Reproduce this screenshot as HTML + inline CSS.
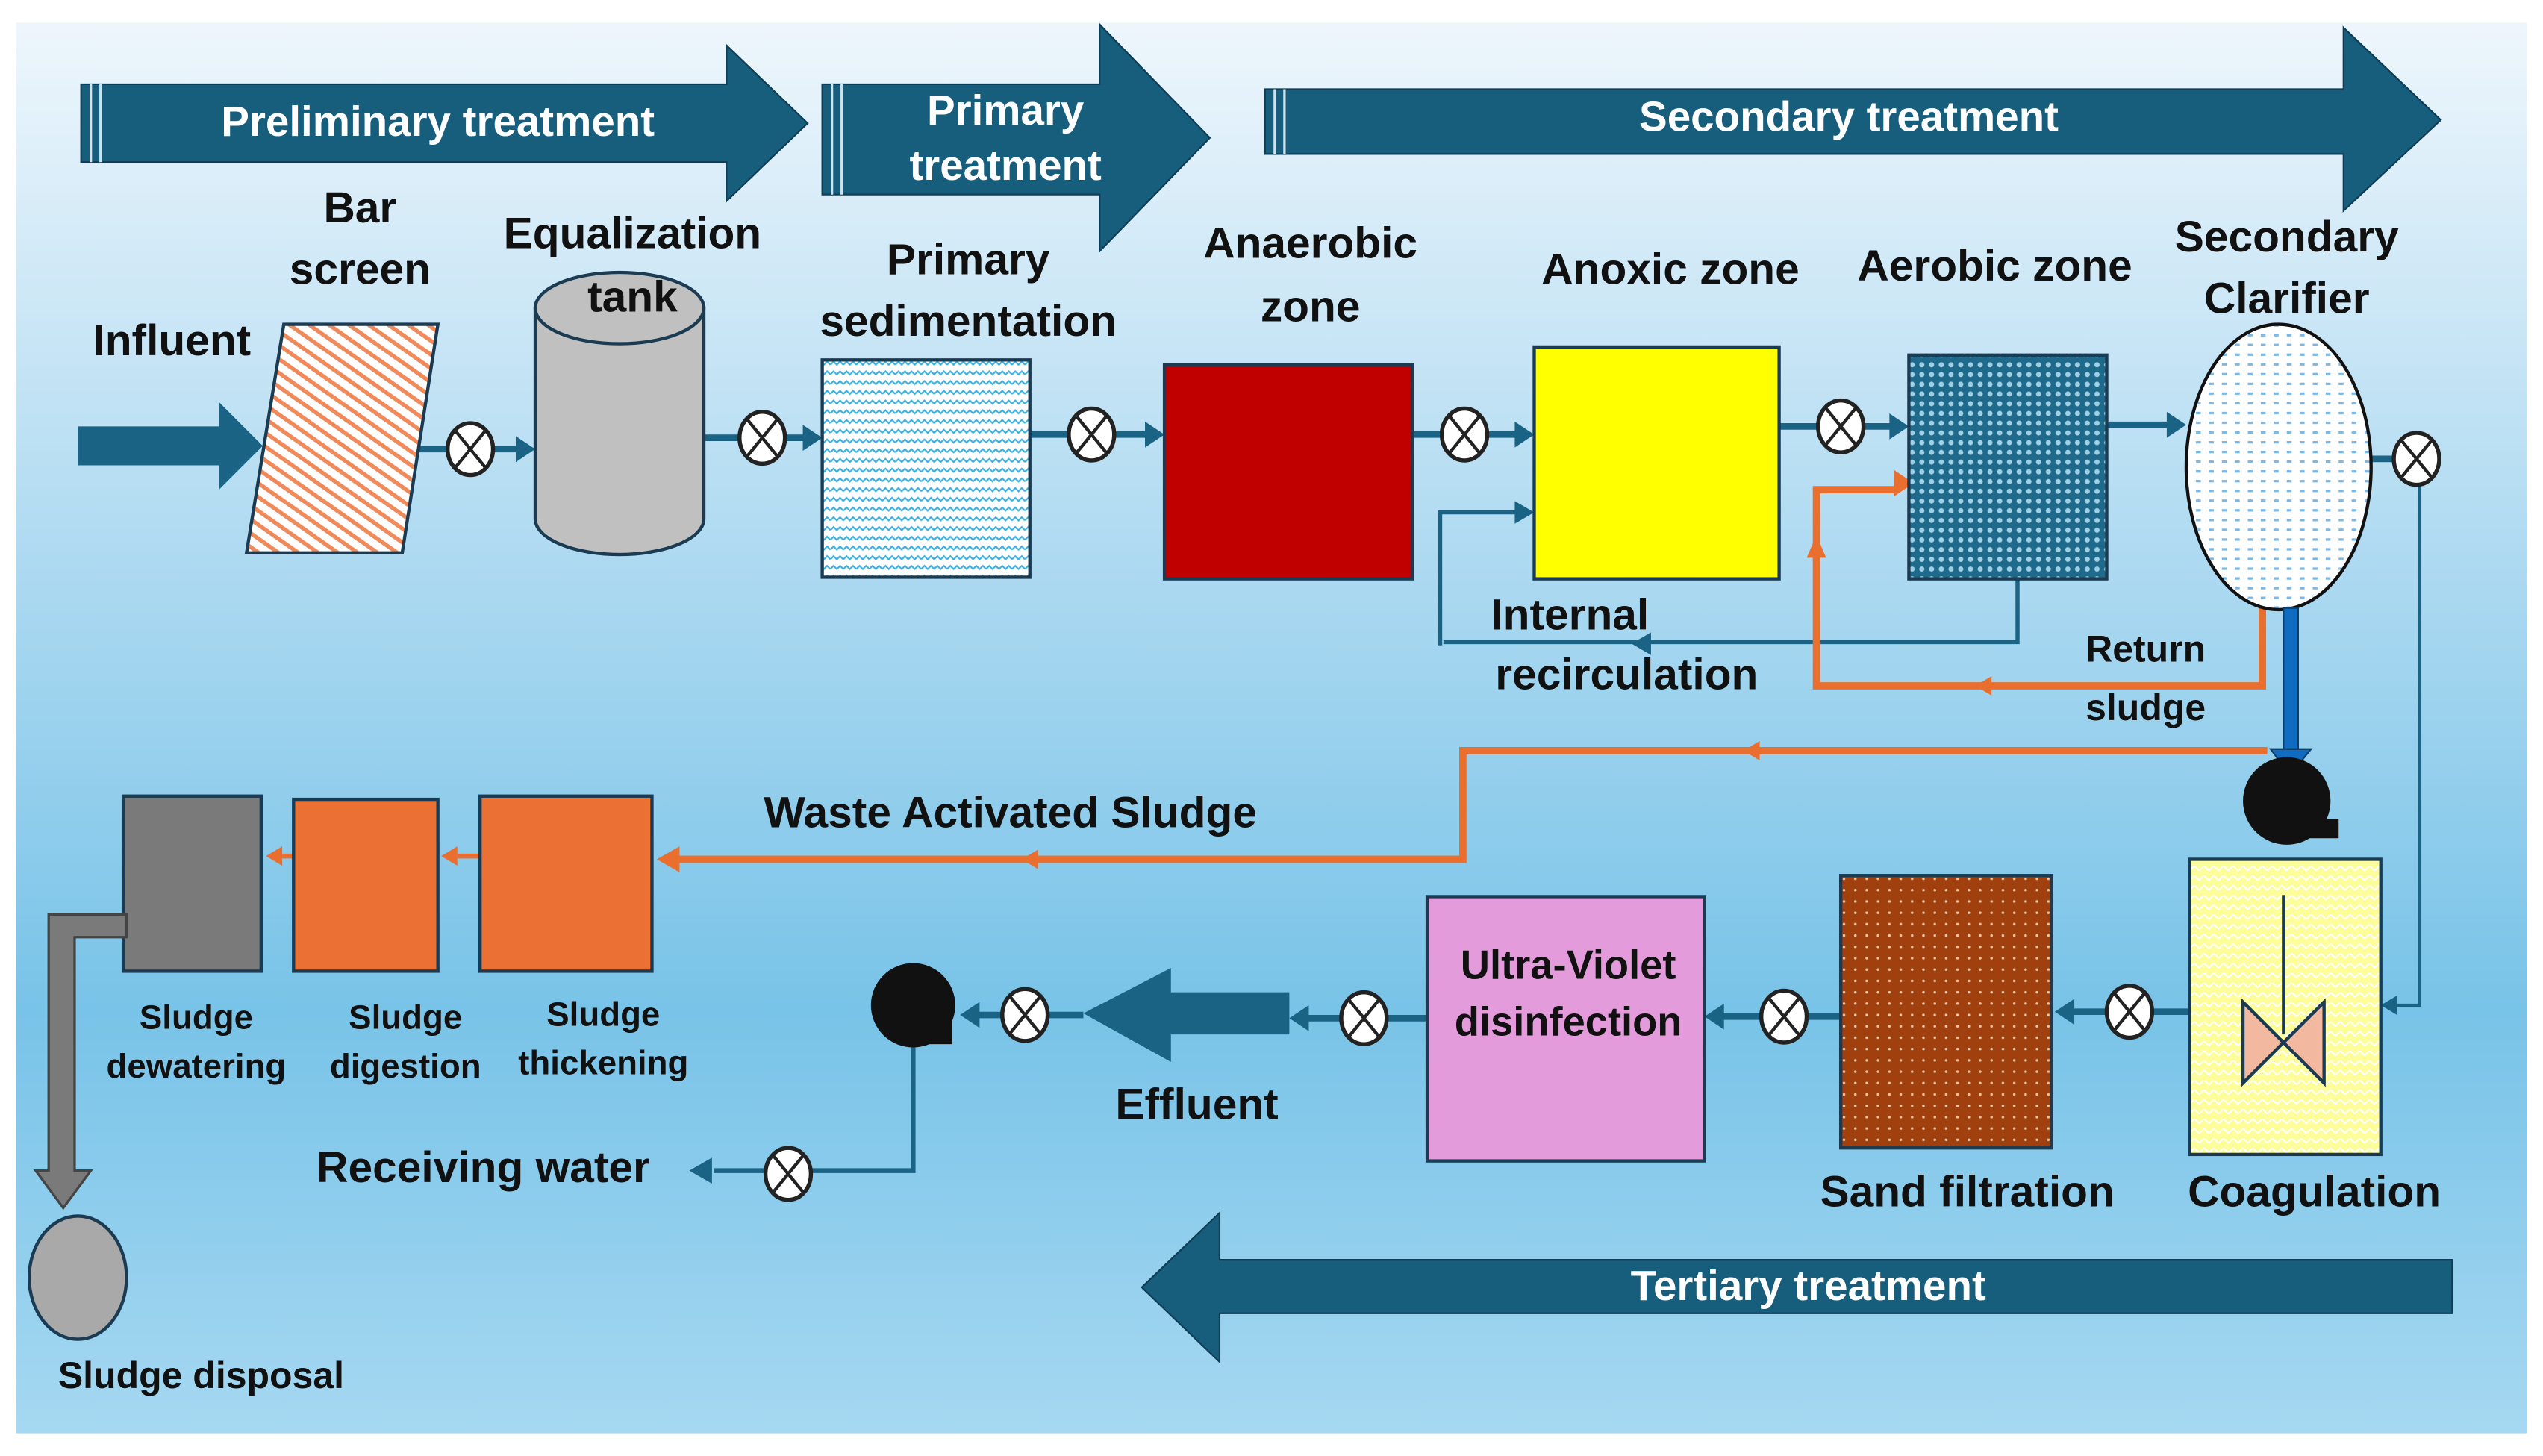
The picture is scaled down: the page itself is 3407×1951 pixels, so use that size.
<!DOCTYPE html>
<html><head><meta charset="utf-8"><style>
html,body{margin:0;padding:0;background:#fff;}
svg{display:block;}
text{font-family:"Liberation Sans Narrow","Liberation Sans",sans-serif;font-weight:bold;text-anchor:middle;dominant-baseline:middle;}
</style></head><body>
<svg width="3407" height="1951" viewBox="0 0 1568 898" preserveAspectRatio="none" xmlns="http://www.w3.org/2000/svg">
<defs>
<linearGradient id="bg" x1="0" y1="0" x2="0" y2="1">
<stop offset="0" stop-color="#eef6fc"/><stop offset="0.35" stop-color="#b3dcf2"/><stop offset="0.7" stop-color="#78c3e8"/><stop offset="1" stop-color="#a6d8f1"/></linearGradient>
<pattern id="hatch" width="7" height="7" patternUnits="userSpaceOnUse" patternTransform="rotate(-55)"><rect width="7" height="7" fill="#fff"/><rect width="2.5" height="7" fill="#f08a5a"/></pattern>
<pattern id="wave" width="8" height="6" patternUnits="userSpaceOnUse"><rect width="8" height="6" fill="#fff"/><path d="M0 3 L2 1 L4 3 L6 1 L8 3" stroke="#3bb0e0" fill="none" stroke-width="1"/></pattern>
<pattern id="mesh" width="6" height="6" patternUnits="userSpaceOnUse"><rect width="6" height="6" fill="#1f6a8a"/><circle cx="3" cy="3" r="1.6" fill="#9fd0e6"/></pattern>
<pattern id="dots" width="8" height="6" patternUnits="userSpaceOnUse"><rect width="8" height="6" fill="#fff"/><rect x="2" y="2" width="3" height="1.5" fill="#7bb8e6"/></pattern>
<pattern id="sand" width="7" height="7" patternUnits="userSpaceOnUse"><rect width="7" height="7" fill="#a0400f"/><circle cx="3" cy="3" r="0.8" fill="#f0c8a8"/></pattern>
<pattern id="yel" width="6" height="6" patternUnits="userSpaceOnUse"><rect width="6" height="6" fill="#fdfd9a"/><path d="M0 3 L3 0 L6 3" stroke="#fff" fill="none" stroke-width="1"/></pattern>
<g id="v"><ellipse cx="0" cy="0" rx="14" ry="16" fill="#fff" stroke="#222" stroke-width="2.5"/><path d="M-9 -11 L9 11 M9 -11 L-9 11" stroke="#222" stroke-width="2"/></g>
</defs>
<rect x="10" y="14" width="1548" height="870" fill="url(#bg)"/>
<g fill="#175d7c" stroke="#0e3d55" stroke-width="1">
<path d="M50 52 H448 V28 L498 76 L448 124 V100 H50 Z"/>
<path d="M507 52 H678 V15 L746 85 L678 155 V120 H507 Z"/>
<path d="M780 55 H1445 V17 L1505 74 L1445 130 V95 H780 Z"/>
<path d="M1512 777 H752 V748 L704 794 L752 840 V810 H1512 Z"/>
</g>
<g stroke="#cfe3ee" stroke-width="1.5"><path d="M56 52V100M62 52V100M513 52V120M519 52V120M786 55V95M792 55V95"/></g>
<g fill="#fff" font-size="26">
<text x="270" y="77">Preliminary treatment</text>
<text x="620" y="70">Primary</text><text x="620" y="104">treatment</text>
<text x="1140" y="74">Secondary treatment</text>
<text x="1115" y="795">Tertiary treatment</text>
</g>
<g stroke="#1a6385" stroke-width="4" fill="none">
<path d="M255 277H322M434 270H500M635 268H710M871 268H940M1097 263H1170M1299 262H1340"/>
<path d="M1462 283H1476"/>
<path d="M1244 330V396H890M888 398V316H940" stroke-width="2.5"/>
<path d="M1492 298V620H1472" stroke-width="2"/>
<path d="M1350 624H1275M1135 627H1060M880 628H803M668 626H600" />
<path d="M563 645V722H440" stroke-width="3"/>
</g>
<g fill="#1a6385">
<path d="M330 277l-12-8v16z"/><path d="M507 270l-12-8v16z"/><path d="M718 268l-12-8v16z"/><path d="M946 268l-12-8v16z"/><path d="M1177 263l-12-8v16z"/><path d="M1348 262l-12-8v16z"/><path d="M946 316l-12-7v14z"/><path d="M1006 397l12-7v14z"/>
<path d="M1468 620l10-6v12z"/><path d="M1267 624l12-8v16z"/><path d="M1051 627l12-8v16z"/><path d="M795 628l12-8v16z"/><path d="M592 626l12-8v16z"/><path d="M425 722l14-8v16z"/>
<path d="M48 263H135V248L162 275L135 302V287H48Z"/>
<path d="M795 612H722V597L668 625L722 655V638H795Z"/>
</g>
<g stroke="#ea6e2e" stroke-width="4.5" fill="none">
<path d="M1395 375V423H1120V302H1170"/>
<path d="M1398 463H902V530H415"/>
</g>
<g fill="#ea6e2e"><path d="M1180 298l-12-8v16z"/><path d="M1120 330l-6 14h12z"/><path d="M1218 423l10-6v12z"/><path d="M1075 463l10-6v12z"/><path d="M630 530l10-6v12z"/><path d="M405 530l14-8v16z"/><path d="M164 528l10-6v12zM272 528l10-6v12z"/><path d="M174 528H181M282 528H296" stroke="#ea6e2e" stroke-width="3"/></g>
<path d="M175 200H270L248 341H152Z" fill="url(#hatch)" stroke="#1b3b52" stroke-width="2"/>
<path d="M330 190V320A52 22 0 0 0 434 320V190Z" fill="#c0c0c0" stroke="#1b3b52" stroke-width="2"/>
<ellipse cx="382" cy="190" rx="52" ry="22" fill="#c0c0c0" stroke="#1b3b52" stroke-width="2"/>
<rect x="507" y="222" width="128" height="134" fill="url(#wave)" stroke="#1b3b52" stroke-width="2"/>
<rect x="718" y="225" width="153" height="132" fill="#c00000" stroke="#1b3b52" stroke-width="2"/>
<rect x="946" y="214" width="151" height="143" fill="#ffff00" stroke="#1b3b52" stroke-width="2"/>
<rect x="1177" y="219" width="122" height="138" fill="url(#mesh)" stroke="#1b3b52" stroke-width="2"/>
<ellipse cx="1405" cy="288" rx="57" ry="88" fill="url(#dots)" stroke="#111" stroke-width="2"/>
<rect x="1408" y="375" width="9" height="92" fill="#0f6cc0" stroke="#0b3d66"/>
<path d="M1400 462H1425L1412 478Z" fill="#0f6cc0" stroke="#0b3d66"/>
<circle cx="1410" cy="494" r="27" fill="#111"/><rect x="1410" y="505" width="32" height="12" fill="#111"/>
<rect x="76" y="491" width="85" height="108" fill="#7a7a7a" stroke="#1b3b52" stroke-width="2"/>
<rect x="181" y="493" width="89" height="106" fill="#ea7033" stroke="#1b3b52" stroke-width="2"/>
<rect x="296" y="491" width="106" height="108" fill="#ea7033" stroke="#1b3b52" stroke-width="2"/>
<path d="M78 564H30V722H22L39 745L56 722H46V578H78Z" fill="#7a7a7a" stroke="#444" stroke-width="1.5"/>
<ellipse cx="48" cy="788" rx="30" ry="38" fill="#a9a9a9" stroke="#1b3b52" stroke-width="2"/>
<rect x="1350" y="530" width="118" height="182" fill="url(#yel)" stroke="#1b3b52" stroke-width="2"/>
<path d="M1408 552V638" stroke="#1b3b52" stroke-width="2"/>
<path d="M1383 618L1433 668V618L1383 668Z" fill="#f2b8a0" stroke="#1b3b52" stroke-width="2"/>
<rect x="1135" y="540" width="130" height="168" fill="url(#sand)" stroke="#1b3b52" stroke-width="2"/>
<rect x="880" y="553" width="171" height="163" fill="#e49bdc" stroke="#1b3b52" stroke-width="2"/>
<circle cx="563" cy="620" r="26" fill="#111"/><rect x="563" y="630" width="24" height="14" fill="#111"/>
<use href="#v" x="290" y="277"/><use href="#v" x="470" y="270"/><use href="#v" x="673" y="268"/><use href="#v" x="903" y="268"/><use href="#v" x="1135" y="263"/><use href="#v" x="1490" y="283"/><use href="#v" x="1313" y="624"/><use href="#v" x="1100" y="627"/><use href="#v" x="841" y="628"/><use href="#v" x="632" y="626"/><use href="#v" x="486" y="724"/>
<g fill="#111" font-size="27">
<text x="222" y="130">Bar</text><text x="222" y="168">screen</text>
<text x="390" y="146">Equalization</text><text x="390" y="185">tank</text>
<text x="106" y="212">Influent</text>
<text x="597" y="162">Primary</text><text x="597" y="200">sedimentation</text>
<text x="808" y="152">Anaerobic</text><text x="808" y="191">zone</text>
<text x="1030" y="168">Anoxic zone</text>
<text x="1230" y="166">Aerobic zone</text>
<text x="1410" y="148">Secondary</text><text x="1410" y="186">Clarifier</text>
<text x="968" y="381">Internal</text><text x="1003" y="418">recirculation</text>
<text x="623" y="503">Waste Activated Sludge</text>
<text x="738" y="683">Effluent</text>
<text x="298" y="722">Receiving water</text>
<text x="1213" y="737">Sand filtration</text>
<text x="1427" y="737">Coagulation</text>
<text x="967" y="597" font-size="25">Ultra-Violet</text><text x="967" y="632" font-size="25">disinfection</text>
</g>
<g fill="#111" font-size="23">
<text x="1323" y="402">Return</text><text x="1323" y="438">sludge</text>
<text x="124" y="850">Sludge disposal</text>
</g>
<g fill="#111" font-size="21">
<text x="121" y="629">Sludge</text><text x="121" y="659">dewatering</text>
<text x="250" y="629">Sludge</text><text x="250" y="659">digestion</text>
<text x="372" y="627">Sludge</text><text x="372" y="657">thickening</text>
</g>
</svg>
</body></html>
